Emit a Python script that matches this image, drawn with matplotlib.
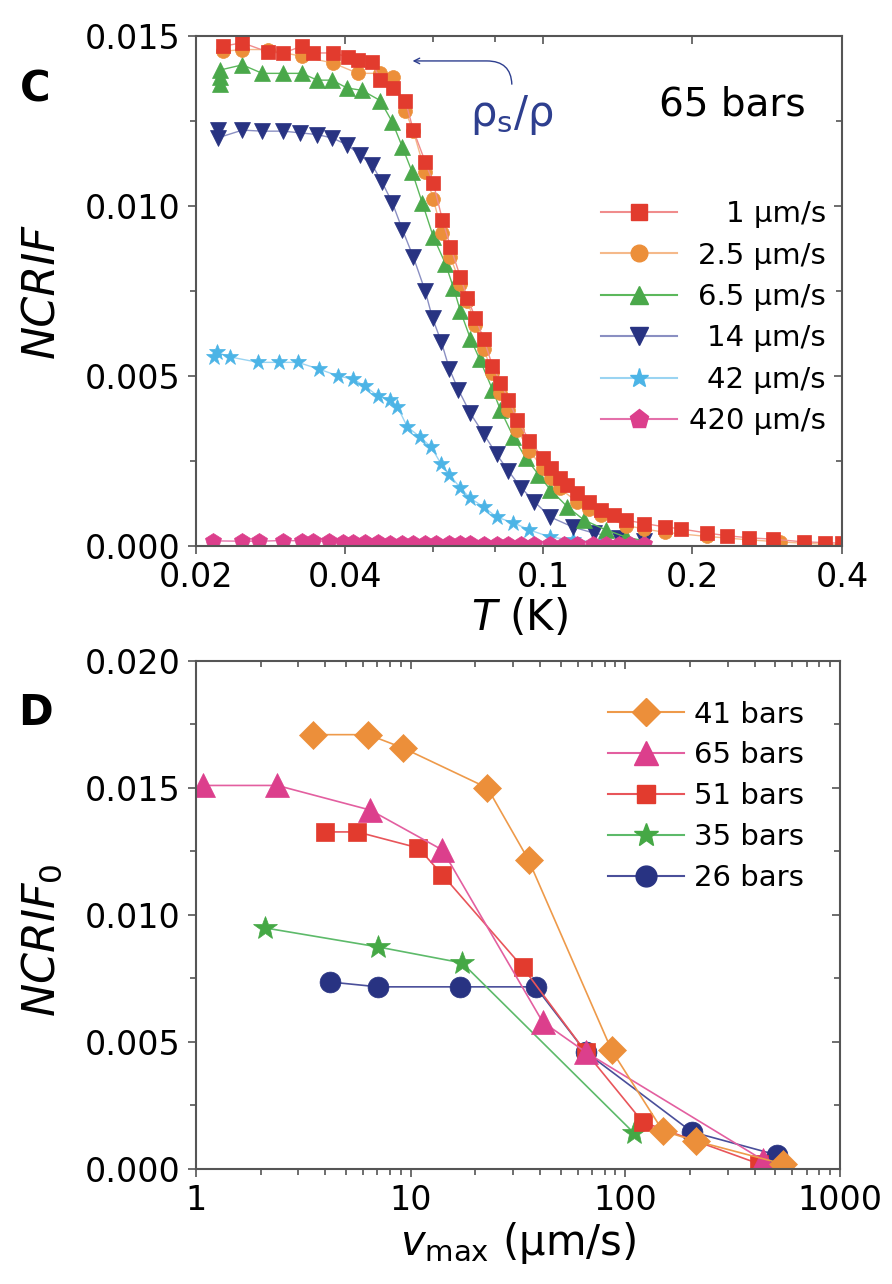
import numpy as np
import matplotlib
matplotlib.use('Agg')
import matplotlib.pyplot as plt
from matplotlib.lines import Line2D
from matplotlib.ticker import FixedLocator, NullFormatter, MultipleLocator, FormatStrFormatter, LogLocator

# ---------------- panel C data : NCRIF vs T (65 bars) ----------------
T_1 = [0.0227, 0.0248, 0.0279, 0.0300, 0.0327, 0.0344, 0.0378, 0.0405, 0.0424, 0.0453,
       0.0470, 0.0499, 0.0528, 0.0548, 0.0579, 0.0601, 0.0627, 0.0651, 0.0682, 0.0704,
       0.0731, 0.0759, 0.0791, 0.0821, 0.0852, 0.0888, 0.0939, 0.0998, 0.104, 0.108,
       0.112, 0.117, 0.124, 0.131, 0.139, 0.147, 0.160, 0.176, 0.190, 0.214,
       0.235, 0.260, 0.290, 0.335, 0.370, 0.400]
N_1 = [0.0147, 0.0148, 0.01453, 0.0145, 0.0147, 0.0145, 0.0145, 0.01438, 0.0143, 0.01423,
       0.0137, 0.01347, 0.0131, 0.01223, 0.0113, 0.01068, 0.0096, 0.0088, 0.0079, 0.0073,
       0.0067, 0.0061, 0.0053, 0.0048, 0.0043, 0.0037, 0.0031, 0.0026, 0.0023, 0.0020,
       0.0018, 0.00156, 0.0013, 0.00106, 0.0009, 0.00076, 0.00066, 0.00056, 0.0005, 0.00038,
       0.0003, 0.00024, 0.0002, 0.00012, 0.0001, 0.00008]

T_25 = [0.0227, 0.0248, 0.0279, 0.0327, 0.0378, 0.0424, 0.0470, 0.0499, 0.0528, 0.0548,
        0.0579, 0.0601, 0.0627, 0.0651, 0.0682, 0.0704, 0.0731, 0.0759, 0.0791, 0.0821,
        0.0852, 0.0888, 0.0939, 0.0998, 0.104, 0.108, 0.117, 0.124, 0.131, 0.147,
        0.160, 0.176, 0.214, 0.260, 0.300, 0.335, 0.370, 0.400]
N_25 = [0.01455, 0.0146, 0.0146, 0.0144, 0.0142, 0.0139, 0.0139, 0.0138, 0.0128, 0.0122,
        0.0110, 0.0102, 0.0092, 0.0085, 0.0077, 0.0072, 0.0065, 0.0058, 0.0051, 0.0045,
        0.0040, 0.0034, 0.0028, 0.0023, 0.0020, 0.0017, 0.0013, 0.0011, 0.0009, 0.0006,
        0.0005, 0.0004, 0.00028, 0.00018, 0.00012, 0.00008, 0.00005, 0.00004]

T_65 = [0.0224, 0.0224, 0.0224, 0.0248, 0.0272, 0.0300, 0.0327, 0.0351, 0.0376, 0.0403,
        0.0432, 0.0470, 0.0497, 0.0521, 0.0545, 0.0571, 0.0601, 0.0636, 0.0660, 0.0682,
        0.0714, 0.0745, 0.0791, 0.0821, 0.0872, 0.0922, 0.0979, 0.1035, 0.112, 0.121,
        0.134, 0.147, 0.160]
N_65 = [0.0136, 0.0138, 0.0140, 0.01415, 0.0139, 0.0139, 0.0139, 0.0137, 0.0137, 0.01347,
        0.0134, 0.0131, 0.01247, 0.01173, 0.0110, 0.0101, 0.0091, 0.0083, 0.0076, 0.0069,
        0.0061, 0.0055, 0.0046, 0.0040, 0.0032, 0.0026, 0.0021, 0.00165, 0.00115, 0.00076,
        0.00047, 0.00026, 0.00015]

T_14 = [0.0221, 0.0221, 0.0248, 0.0272, 0.0300, 0.0324, 0.0351, 0.0376, 0.0403, 0.0428,
        0.0453, 0.0474, 0.0497, 0.0521, 0.0548, 0.0579, 0.0599, 0.0624, 0.0648, 0.0675,
        0.0714, 0.0759, 0.0806, 0.0852, 0.0905, 0.0961, 0.1035, 0.1147, 0.1264, 0.142,
        0.160]
N_14 = [0.01223, 0.0120, 0.01223, 0.0122, 0.0122, 0.01215, 0.0121, 0.0120, 0.0118, 0.0115,
        0.0112, 0.0107, 0.0101, 0.0093, 0.0085, 0.0075, 0.0067, 0.0060, 0.0052, 0.0046,
        0.0039, 0.0033, 0.0027, 0.0022, 0.0017, 0.0013, 0.00085, 0.00056, 0.00038, 0.00024,
        0.00015]

T_42 = [0.0217, 0.0220, 0.0234, 0.0267, 0.0294, 0.0321, 0.0354, 0.0387, 0.0415, 0.0438,
        0.0466, 0.0492, 0.0509, 0.0533, 0.0566, 0.0596, 0.0624, 0.0648, 0.0682, 0.0714,
        0.0759, 0.0806, 0.0872, 0.0939, 0.1035, 0.1147, 0.130]
N_42 = [0.00556, 0.0057, 0.00556, 0.0054, 0.0054, 0.0054, 0.0052, 0.0050, 0.0049, 0.0047,
        0.0044, 0.0043, 0.0041, 0.0035, 0.0032, 0.0029, 0.0024, 0.0021, 0.0017, 0.0014,
        0.00115, 0.00085, 0.00068, 0.00047, 0.00026, 0.00018, 0.0001]

T_420 = [0.0216, 0.0248, 0.0268, 0.0300, 0.0327, 0.0344, 0.0370, 0.0395, 0.0415, 0.0438,
         0.0466, 0.0492, 0.0521, 0.0548, 0.0579, 0.0610, 0.0648, 0.0682, 0.0714, 0.0759,
         0.0806, 0.0852, 0.0905, 0.0961, 0.1035, 0.110, 0.117, 0.126, 0.134, 0.142,
         0.150, 0.160]
N_420 = [0.00015, 0.00014, 0.00014, 0.00016, 0.00015, 0.00014, 0.00014, 0.00012, 0.00012, 0.00011,
         0.00011, 0.00010, 0.00010, 0.00009, 0.00009, 0.00009, 0.00008, 0.00008, 0.00008, 0.00007,
         0.00007, 0.00007, 0.00006, 0.00006, 0.00006, 0.00006, 0.00005, 0.00005, 0.00005, 0.00005,
         0.00005, 0.00005]

# ---------------- panel D data : NCRIF0 vs v_max ----------------
v_41 = [3.52, 6.35, 9.25, 22.8, 35.4, 86.4, 149.5, 213, 540]
n_41 = [0.0171, 0.0171, 0.01657, 0.0150, 0.01217, 0.00467, 0.0015, 0.0011, 0.0002]
v_65 = [1.08, 2.39, 6.49, 14.06, 41.2, 65.4, 438]
n_65 = [0.0151, 0.0151, 0.01413, 0.01256, 0.00579, 0.0046, 0.00035]
v_51 = [4.0, 5.64, 10.86, 14.06, 33.2, 65.4, 120.5, 420]
n_51 = [0.01327, 0.01327, 0.01264, 0.01158, 0.00795, 0.0046, 0.00185, 0.0002]
v_35 = [2.10, 7.07, 17.4, 109.5]
n_35 = [0.00949, 0.00874, 0.00811, 0.00142]
v_26 = [4.22, 7.07, 17.06, 38.2, 65.4, 204, 509]
n_26 = [0.00736, 0.00717, 0.00717, 0.00717, 0.0046, 0.00146, 0.00055]

plt.rcParams['font.family'] = 'DejaVu Sans'
plt.rcParams['mathtext.fontset'] = 'dejavusans'

fig = plt.figure(figsize=(8.92, 12.84), dpi=100)
ax1 = fig.add_axes([0.2197, 0.5748, 0.7242, 0.3972])
ax2 = fig.add_axes([0.2197, 0.0896, 0.7220, 0.3956])

spine_c = '#555555'

def style_axes(ax):
    for s in ax.spines.values():
        s.set_color(spine_c)
        s.set_linewidth(1.5)
    ax.tick_params(which='both', direction='out', color=spine_c, width=1.2, labelsize=24, pad=5)
    ax.tick_params(which='major', length=6)
    ax.tick_params(which='minor', length=4)

def inner_ticks(sec):
    sec.tick_params(which='both', direction='in', color=spine_c, width=1.2, labelleft=False,
                    labelright=False, labeltop=False, labelbottom=False)
    sec.tick_params(which='major', length=6)
    sec.tick_params(which='minor', length=4)
    for s in sec.spines.values():
        s.set_visible(False)

# ---- panel C ----
top_series = [
    (T_42, N_42, '*', '#4cb4e6', '#9ad4f2', 12, '42 μm/s'),
    (T_14, N_14, 'v', '#283382', '#8a8fc2', 11, '14 μm/s'),
    (T_65, N_65, '^', '#4aa84a', '#5cb85c', 11, '6.5 μm/s'),
    (T_420, N_420, 'p', '#dc3f8c', '#e470aa', 12, '420 μm/s'),
    (T_25, N_25, 'o', '#ec8f3a', '#f5b98a', 10, '2.5 μm/s'),
    (T_1, N_1, 's', '#e23b2e', '#f08c8c', 10, '1 μm/s'),
]
handles = {}
for T, N, mk, c, lc, ms, lab in top_series:
    ax1.plot(T, N, color=lc, lw=1.0, marker=mk, ms=ms, mfc=c, mec=c, mew=0.5)
    handles[lab] = Line2D([], [], color=lc, lw=1.5, marker=mk, ms=ms + 2, mfc=c, mec=c)

ax1.set_xscale('log')
ax1.set_xlim(0.02, 0.4)
ax1.set_ylim(0, 0.015)
ax1.xaxis.set_major_locator(FixedLocator([0.02, 0.04, 0.1, 0.2, 0.4]))
ax1.xaxis.set_minor_locator(FixedLocator([0.06, 0.08]))
ax1.set_xticklabels(['0.02', '0.04', '0.1', '0.2', '0.4'])
ax1.xaxis.set_minor_formatter(NullFormatter())
ax1.yaxis.set_major_locator(MultipleLocator(0.005))
ax1.yaxis.set_minor_locator(MultipleLocator(0.0025))
ax1.yaxis.set_major_formatter(FormatStrFormatter('%.3f'))
style_axes(ax1)

sx = ax1.secondary_xaxis('top')
sx.set_xticks([0.02, 0.04, 0.1, 0.2, 0.4])
sx.set_xticks([0.06, 0.08], minor=True)
sy = ax1.secondary_yaxis('right')
sy.yaxis.set_major_locator(MultipleLocator(0.005))
sy.yaxis.set_minor_locator(MultipleLocator(0.0025))
inner_ticks(sx)
inner_ticks(sy)

ax1.set_xlabel(r'$T$ (K)', fontsize=30, labelpad=2)
ax1.set_ylabel('NCRIF', fontsize=32, style='italic')
ax1.yaxis.set_label_coords(-0.205, 0.5)

ax1.text(0.831, 0.865, '65 bars', transform=ax1.transAxes, fontsize=28, ha='center', va='center')
ax1.text(0.489, 0.845, 'ρ$_\\mathrm{s}$/ρ', transform=ax1.transAxes, fontsize=30,
         color='#2e3f8f', ha='center', va='center')
ax1.annotate('', xy=(0.331, 0.951), xycoords='axes fraction',
             xytext=(0.489, 0.9), textcoords='axes fraction',
             arrowprops=dict(arrowstyle='->', color='#2e3f8f', lw=1.0,
                             connectionstyle='angle,angleA=90,angleB=0,rad=25'))

order = ['1 μm/s', '2.5 μm/s', '6.5 μm/s', '14 μm/s', '42 μm/s', '420 μm/s']
leg1 = ax1.legend([handles[k] for k in order], order, loc='upper right',
                  bbox_to_anchor=(0.975, 0.678), frameon=False, fontsize=21,
                  handlelength=2.6, handletextpad=0.4, labelspacing=0.46,
                  borderpad=0, borderaxespad=0)

# ---- panel D ----
bot_series = [
    (v_26, n_26, 'o', '#283382', '#4a4f9a', 15, '26 bars'),
    (v_35, n_35, '*', '#45a845', '#5dba6a', 18, '35 bars'),
    (v_51, n_51, 's', '#e23b2e', '#e8555a', 13, '51 bars'),
    (v_65, n_65, '^', '#dc3f8c', '#e35fa0', 17, '65 bars'),
    (v_41, n_41, 'D', '#ec8f3a', '#ee9a4a', 14, '41 bars'),
]
bh = {}
for v, n, mk, c, lc, ms, lab in bot_series:
    ax2.plot(v, n, color=lc, lw=1.2, marker=mk, ms=ms, mfc=c, mec=c, mew=0.5)
    bh[lab] = Line2D([], [], color=lc, lw=1.5, marker=mk, ms=ms, mfc=c, mec=c)

ax2.set_xscale('log')
ax2.set_xlim(1, 1000)
ax2.set_ylim(0, 0.020)
ax2.xaxis.set_major_locator(FixedLocator([1, 10, 100, 1000]))
ax2.set_xticklabels(['1', '10', '100', '1000'])
ax2.xaxis.set_minor_locator(LogLocator(base=10, subs=np.arange(2, 10)))
ax2.xaxis.set_minor_formatter(NullFormatter())
ax2.yaxis.set_major_locator(MultipleLocator(0.005))
ax2.yaxis.set_minor_locator(MultipleLocator(0.0025))
ax2.yaxis.set_major_formatter(FormatStrFormatter('%.3f'))
style_axes(ax2)

sx2 = ax2.secondary_xaxis('top')
sx2.set_xticks([1, 10, 100, 1000])
sx2.xaxis.set_minor_locator(LogLocator(base=10, subs=np.arange(2, 10)))
sy2 = ax2.secondary_yaxis('right')
sy2.yaxis.set_major_locator(MultipleLocator(0.005))
sy2.yaxis.set_minor_locator(MultipleLocator(0.0025))
inner_ticks(sx2)
inner_ticks(sy2)

ax2.set_xlabel(r'$v_{\rm max}$ (μm/s)', fontsize=30, labelpad=2)
ax2.set_ylabel(r'$NCRIF_0$', fontsize=32)
ax2.yaxis.set_label_coords(-0.205, 0.45)

border = ['41 bars', '65 bars', '51 bars', '35 bars', '26 bars']
ax2.legend([bh[k] for k in border], border, loc='upper left', bbox_to_anchor=(0.64, 0.922),
           frameon=False, fontsize=21, handlelength=2.6, handletextpad=0.35,
           labelspacing=0.44, borderpad=0, borderaxespad=0)

fig.text(35 / 892, 1 - 90 / 1284, 'C', fontsize=30, fontweight='bold', ha='center', va='center')
fig.text(35 / 892, 1 - 713 / 1284, 'D', fontsize=30, fontweight='bold', ha='center', va='center')

# right-align the legend texts of panel C
fig.canvas.draw()
r = fig.canvas.get_renderer()
texts = leg1.get_texts()
widths = [t.get_window_extent(r).width for t in texts]
w = max(widths)
for t, wi in zip(texts, widths):
    t.set_position((w - wi, 0))

fig.savefig('out.png', dpi=100)
